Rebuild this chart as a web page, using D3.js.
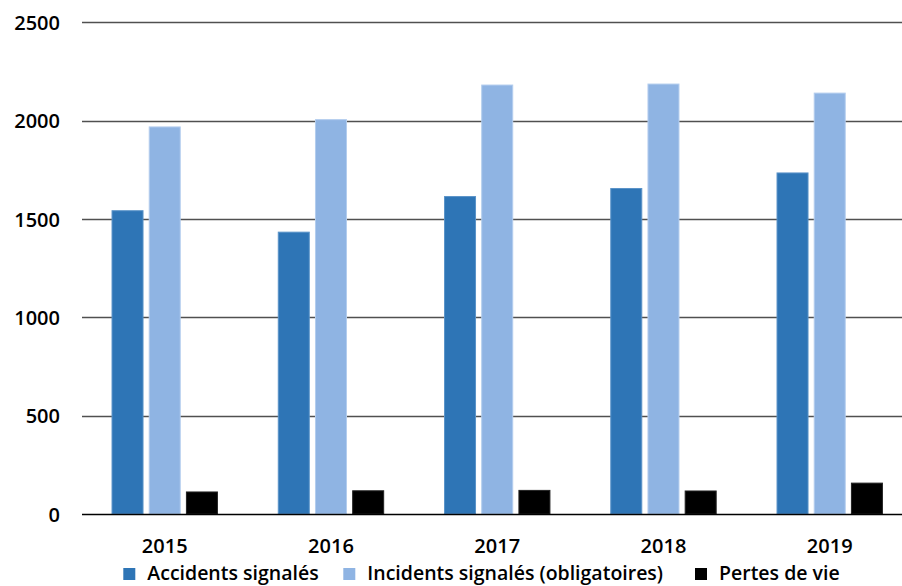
<!DOCTYPE html>
<html>
<head>
<meta charset="utf-8">
<script src="https://cdn.jsdelivr.net/npm/d3@7"></script>
<style>
  html, body { margin: 0; padding: 0; background: #fff; }
  svg { display: block; }
  text { font-family: "Open Sans", "Noto Sans", "DejaVu Sans", sans-serif; font-weight: 600; fill: #000; }
</style>
</head>
<body>
<svg id="chart" width="902" height="586"></svg>
<script>
const years = ["2015", "2016", "2017", "2018", "2019"];
const seriesNames = ["Accidents signalés", "Incidents signalés (obligatoires)", "Pertes de vie"];
const accidents = [1542, 1433, 1614, 1655, 1734];
const incidents = [1968, 2005, 2181, 2186, 2140];
const pertes = [112, 118, 120, 117, 157];
const yTicks = [0, 500, 1000, 1500, 2000, 2500];
const colors = ["#2e75b6", "#8fb4e3", "#000000"];
const strokes = ["#5a93c8", "#b3cdee", "#222222"];

const seriesValues = [accidents, incidents, pertes];

const svg = d3.select("#chart");
const W = 902;
const FS = 20;

const y = d3.scaleLinear().domain([0, 2500]).range([514, 22.3]);
const x = d3.scaleBand().domain(years).range([81.6, 81.6 + 166.25 * 5]).padding(0);
const xs = d3.scaleBand().domain(seriesNames).range([-55.8, 55.8]).padding(0);
const barW = 31;

// gridlines
svg.append("g").selectAll("line")
  .data(yTicks.filter(t => t > 0))
  .join("line")
  .attr("x1", 82).attr("x2", W)
  .attr("y1", d => Math.round(y(d)) + 0.5).attr("y2", d => Math.round(y(d)) + 0.5)
  .attr("stroke", "#505050").attr("stroke-width", 1.3);

// y axis labels
const yAxis = d3.axisLeft(y).tickValues(yTicks).tickFormat(d3.format("d")).tickSize(0).tickPadding(0);
const gy = svg.append("g").attr("transform", "translate(60,0)").call(yAxis);
gy.select(".domain").remove();
gy.selectAll("text").attr("font-size", FS).attr("dy", "0.36em")
  .style("font-family", "'Open Sans', 'Noto Sans', sans-serif").style("font-weight", 600).attr("fill", "#000");

// bars
const groups = svg.append("g").selectAll("g")
  .data(years)
  .join("g")
  .attr("transform", d => `translate(${x(d) + x.bandwidth() / 2},0)`);

groups.selectAll("rect")
  .data((yr, i) => seriesNames.map((s, j) => ({ s, j, v: seriesValues[j][i] })))
  .join("rect")
  .attr("x", d => xs(d.s) + (xs.bandwidth() - barW) / 2)
  .attr("width", barW)
  .attr("y", d => y(d.v))
  .attr("height", d => y(0) - y(d.v))
  .attr("fill", d => colors[d.j])
  .attr("stroke", d => strokes[d.j])
  .attr("stroke-width", 1);

// baseline
svg.append("line")
  .attr("x1", 82).attr("x2", W)
  .attr("y1", 514.5).attr("y2", 514.5)
  .attr("stroke", "#000").attr("stroke-width", 1.5);

// x axis labels
const xAxis = d3.axisBottom(x).tickSize(0).tickPadding(0);
const gx = svg.append("g").attr("transform", "translate(0,553)").call(xAxis);
gx.select(".domain").remove();
gx.selectAll("text").attr("y", 0).attr("dy", 0).attr("font-size", FS)
  .style("font-family", "'Open Sans', 'Noto Sans', sans-serif").style("font-weight", 600).attr("fill", "#000");

// legend
const legendPos = [123.3, 343.3, 695];
const leg = svg.append("g").selectAll("g")
  .data(seriesNames)
  .join("g")
  .attr("transform", (d, i) => `translate(${legendPos[i]},0)`);
leg.append("rect")
  .attr("x", 0).attr("y", 568).attr("width", 12).attr("height", 12)
  .attr("fill", (d, i) => colors[i]);
leg.append("text")
  .attr("x", 24).attr("y", 580)
  .attr("font-size", 19.5)
  .text(d => d);
</script>
</body>
</html>
